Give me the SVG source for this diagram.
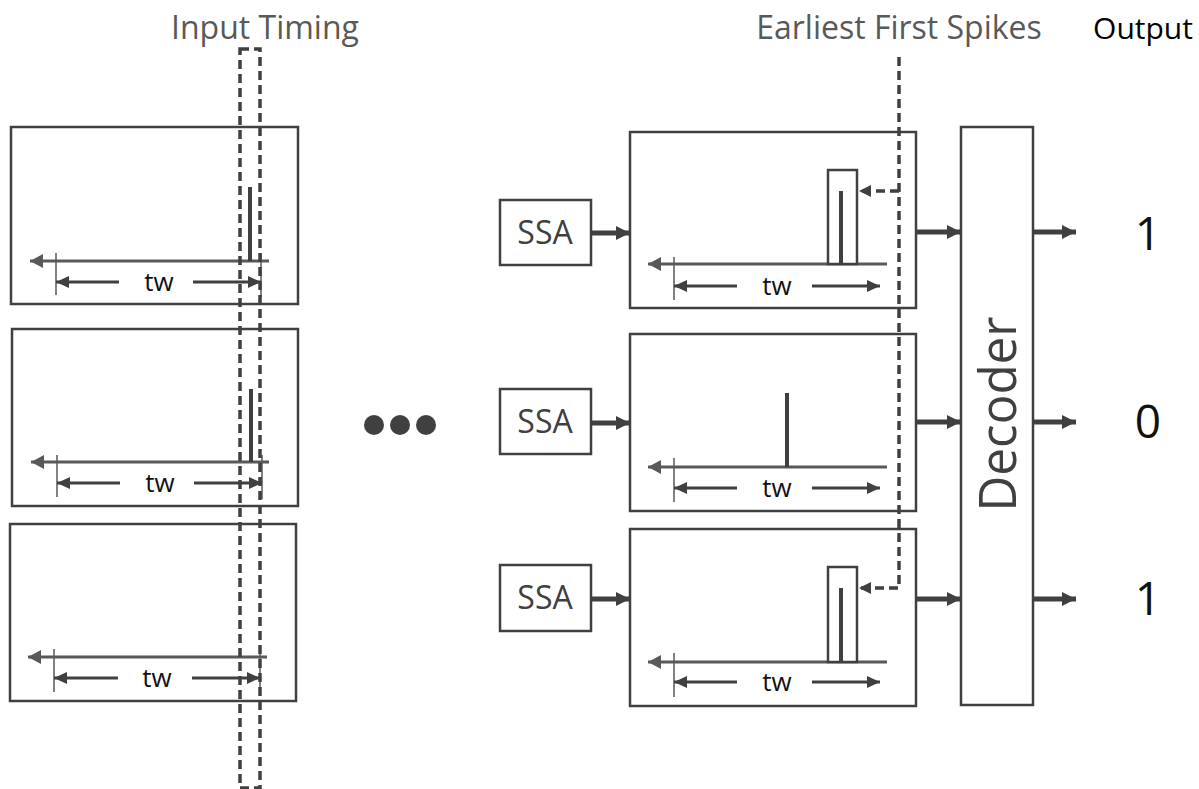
<svg xmlns="http://www.w3.org/2000/svg" width="1199" height="789" viewBox="0 0 1199 789">
<defs>
<style>
.box{fill:#fff;stroke:#404040;stroke-width:2.5}
.axis{stroke:#595959;stroke-width:3;fill:none}
.tick{stroke:#595959;stroke-width:1.5;fill:none}
.tw{stroke:#404040;stroke-width:3;fill:none}
.spike{stroke:#404040;stroke-width:4;fill:none}
.thick{stroke:#404040;stroke-width:5;fill:none}
.dash{stroke:#404040;stroke-width:3.5;fill:none;stroke-dasharray:9 5}
.lbl{font-family:"Open Sans","Noto Sans",sans-serif;fill:#595959}
.twt{font-family:"Open Sans","Noto Sans",sans-serif;font-size:26px;fill:#111;text-anchor:middle}
.ssa{font-family:"Open Sans","Noto Sans",sans-serif;font-size:32px;fill:#404040;text-anchor:middle}
.out{font-family:"Open Sans","Noto Sans",sans-serif;font-size:46px;fill:#111;text-anchor:middle}
</style>
<marker id="ax" markerUnits="userSpaceOnUse" markerWidth="14" markerHeight="14" refX="13" refY="7" orient="auto-start-reverse"><path d="M0,0 L13,7 L0,14 z" fill="#595959"/></marker>
<marker id="ah" markerUnits="userSpaceOnUse" markerWidth="14" markerHeight="14" refX="13" refY="7" orient="auto"><path d="M0,1 L13,7 L0,13 z" fill="#404040"/></marker>
<marker id="at" markerUnits="userSpaceOnUse" markerWidth="16" markerHeight="16" refX="14" refY="8" orient="auto"><path d="M0,1 L14,8 L0,15 z" fill="#404040"/></marker>
<marker id="ad" markerUnits="userSpaceOnUse" markerWidth="14" markerHeight="14" refX="12" refY="7" orient="auto"><path d="M0,1 L12,7 L0,13 z" fill="#404040"/></marker>
</defs>
<rect width="1199" height="789" fill="#fff"/>

<g id="left1">
<rect class="box" x="11" y="127" width="287" height="177"/>
<line class="axis" x1="269" y1="261" x2="30" y2="261" marker-end="url(#ax)"/>
<line class="tick" x1="56" y1="253" x2="56" y2="295"/>
<line class="tick" x1="261" y1="253" x2="261" y2="297"/>
<line class="tw" x1="119" y1="282" x2="56" y2="282" marker-end="url(#ah)"/>
<line class="tw" x1="193" y1="282" x2="261" y2="282" marker-end="url(#ah)"/>
<text class="twt" x="159" y="291">tw</text>
<line class="spike" x1="250" y1="187" x2="250" y2="261"/>
</g>
<g id="left2">
<rect class="box" x="12" y="329" width="286" height="177"/>
<line class="axis" x1="269" y1="462" x2="31" y2="462" marker-end="url(#ax)"/>
<line class="tick" x1="57" y1="455" x2="57" y2="497"/>
<line class="tick" x1="262" y1="455" x2="262" y2="499"/>
<line class="tw" x1="120" y1="483" x2="57" y2="483" marker-end="url(#ah)"/>
<line class="tw" x1="194" y1="483" x2="262" y2="483" marker-end="url(#ah)"/>
<text class="twt" x="160" y="492">tw</text>
<line class="spike" x1="251" y1="389" x2="251" y2="462"/>
</g>
<g id="left3">
<rect class="box" x="10" y="524" width="286" height="177"/>
<line class="axis" x1="267" y1="657" x2="28" y2="657" marker-end="url(#ax)"/>
<line class="tick" x1="54" y1="649" x2="54" y2="692"/>
<line class="tick" x1="260" y1="649" x2="260" y2="692"/>
<line class="tw" x1="118" y1="678" x2="54" y2="678" marker-end="url(#ah)"/>
<line class="tw" x1="192" y1="678" x2="260" y2="678" marker-end="url(#ah)"/>
<text class="twt" x="157" y="687">tw</text>
</g>

<g id="input-timing">
<rect class="dash" x="240" y="49" width="20" height="739"/>
<text class="lbl" x="265" y="39" font-size="32" text-anchor="middle">Input Timing</text>
</g>

<g id="ellipsis" fill="#404040">
<circle cx="374" cy="425" r="10"/>
<circle cx="400" cy="425" r="10"/>
<circle cx="426" cy="425" r="10"/>
</g>

<g id="ssa1"><rect class="box" x="500" y="200" width="91" height="65"/><text class="ssa" x="545" y="244">SSA</text></g>
<g id="ssa2"><rect class="box" x="500" y="389" width="91" height="65"/><text class="ssa" x="545" y="433">SSA</text></g>
<g id="ssa3"><rect class="box" x="500" y="565" width="91" height="66"/><text class="ssa" x="545" y="609">SSA</text></g>

<g id="right1">
<rect class="box" x="630" y="132" width="286" height="176"/>
<line class="axis" x1="887" y1="264" x2="648" y2="264" marker-end="url(#ax)"/>
<line class="tick" x1="674" y1="257" x2="674" y2="300"/>
<line class="tw" x1="737" y1="286" x2="674" y2="286" marker-end="url(#ah)"/>
<line class="tw" x1="812" y1="286" x2="880" y2="286" marker-end="url(#ah)"/>
<text class="twt" x="777" y="295">tw</text>
<rect class="box" x="828" y="170" width="29" height="94"/>
<line class="spike" x1="841" y1="191" x2="841" y2="264"/>
</g>
<g id="right2">
<rect class="box" x="630" y="334" width="286" height="177"/>
<line class="axis" x1="887" y1="467" x2="648" y2="467" marker-end="url(#ax)"/>
<line class="tick" x1="674" y1="458" x2="674" y2="502"/>
<line class="tw" x1="737" y1="488" x2="674" y2="488" marker-end="url(#ah)"/>
<line class="tw" x1="812" y1="488" x2="880" y2="488" marker-end="url(#ah)"/>
<text class="twt" x="777" y="497">tw</text>
<line class="spike" x1="787" y1="393" x2="787" y2="467"/>
</g>
<g id="right3">
<rect class="box" x="630" y="529" width="286" height="177"/>
<line class="axis" x1="887" y1="662" x2="648" y2="662" marker-end="url(#ax)"/>
<line class="tick" x1="674" y1="653" x2="674" y2="697"/>
<line class="tw" x1="737" y1="682" x2="674" y2="682" marker-end="url(#ah)"/>
<line class="tw" x1="812" y1="682" x2="880" y2="682" marker-end="url(#ah)"/>
<text class="twt" x="777" y="691">tw</text>
<rect class="box" x="828" y="567" width="29" height="95"/>
<line class="spike" x1="841" y1="588" x2="841" y2="662"/>
</g>

<g id="decoder">
<rect class="box" x="961" y="127" width="72" height="578"/>
<text class="lbl" font-size="52" text-anchor="middle" transform="translate(1016,414) rotate(-90)" textLength="195" lengthAdjust="spacingAndGlyphs" style="fill:#404040">Decoder</text>
</g>

<g id="labels">
<text class="lbl" x="899" y="39" font-size="32" text-anchor="middle">Earliest First Spikes</text>
<text class="lbl" x="1143" y="39" font-size="30" text-anchor="middle" style="fill:#000">Output</text>
<text class="out" x="1148" y="250">1</text>
<text class="out" x="1148" y="438">0</text>
<text class="out" x="1148" y="615">1</text>
</g>

<g id="connectors">
<line class="thick" x1="591" y1="233" x2="630" y2="233" marker-end="url(#at)"/>
<line class="thick" x1="591" y1="423" x2="630" y2="423" marker-end="url(#at)"/>
<line class="thick" x1="591" y1="599" x2="630" y2="599" marker-end="url(#at)"/>
<line class="thick" x1="916" y1="232" x2="961" y2="232" marker-end="url(#at)"/>
<line class="thick" x1="916" y1="422" x2="961" y2="422" marker-end="url(#at)"/>
<line class="thick" x1="916" y1="599" x2="961" y2="599" marker-end="url(#at)"/>
<line class="thick" x1="1033" y1="232" x2="1076" y2="232" marker-end="url(#at)"/>
<line class="thick" x1="1033" y1="422" x2="1076" y2="422" marker-end="url(#at)"/>
<line class="thick" x1="1033" y1="599" x2="1076" y2="599" marker-end="url(#at)"/>
<path class="dash" d="M899,57 L899,588 L859,588" marker-end="url(#ad)"/>
<path class="dash" d="M899,191 L859,191" marker-end="url(#ad)"/>
</g>
</svg>
